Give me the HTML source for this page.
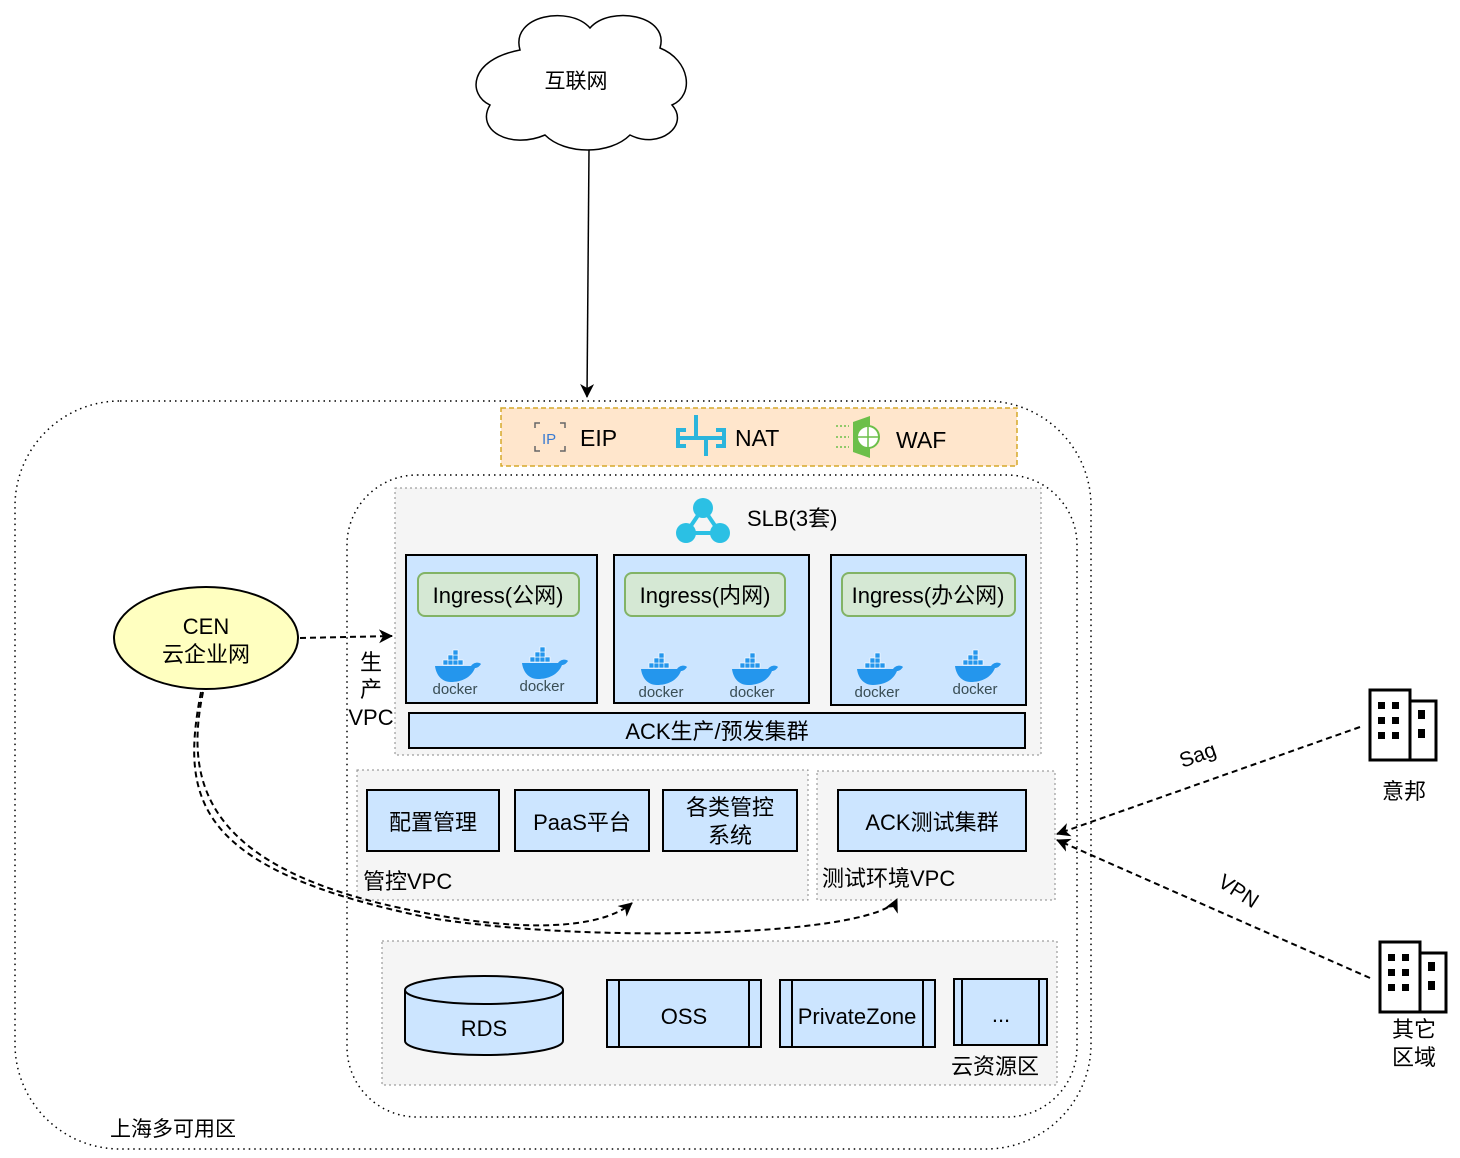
<!DOCTYPE html>
<html><head><meta charset="utf-8"><style>
html,body{margin:0;padding:0;background:#fff}
svg{display:block}
text{font-family:"Liberation Sans","Noto Sans CJK SC",sans-serif;fill:#000}
</style></head><body>
<svg width="1460" height="1158" viewBox="0 0 1460 1158" xmlns="http://www.w3.org/2000/svg">
<defs>
<marker id="ah" viewBox="0 0 10 10" refX="9" refY="5" markerWidth="10" markerHeight="10" markerUnits="userSpaceOnUse" orient="auto">
<path d="M0,0 L10,5 L0,10 L3,5 Z" fill="#000"/></marker>
<marker id="ah2" viewBox="0 0 14 14" refX="13" refY="7" markerWidth="14" markerHeight="14" markerUnits="userSpaceOnUse" orient="auto">
<path d="M0,0 L14,7 L0,14 L4,7 Z" fill="#000"/></marker>
<g id="dk">
<rect x="-12" y="-20" width="5" height="5" fill="#2496ed" stroke="#fff" stroke-width=".6"/>
<rect x="-7" y="-20" width="5" height="5" fill="#2496ed" stroke="#fff" stroke-width=".6"/>
<rect x="-2" y="-20" width="5" height="5" fill="#2496ed" stroke="#fff" stroke-width=".6"/>
<rect x="-7" y="-25" width="5" height="5" fill="#2496ed" stroke="#fff" stroke-width=".6"/>
<rect x="-2" y="-25" width="5" height="5" fill="#2496ed" stroke="#fff" stroke-width=".6"/>
<rect x="-2" y="-30" width="5" height="5" fill="#2496ed" stroke="#fff" stroke-width=".6"/>
<rect x="3" y="-20" width="5" height="5" fill="#2496ed" stroke="#fff" stroke-width=".6"/>
<path d="M-20,-14 L16,-14 C19,-18 24,-18 26,-16 C24,-13 22,-12 20,-12 C16,-2 6,2 -4,2 C-14,2 -19,-6 -20,-14 Z" fill="#2496ed"/>
<text x="0" y="14" font-size="15" text-anchor="middle" style="fill:#394d54">docker</text>
</g>
</defs>

<!-- cloud -->
<path d="M520,50 C510,15 570,5 590,28 C610,5 670,15 660,48 C690,60 695,95 672,105 C690,125 660,150 630,135 C610,155 565,155 545,135 C510,150 475,130 490,105 C468,95 468,60 520,50 Z" fill="#fff" stroke="#000" stroke-width="1.5"/>
<text x="576" y="88" font-size="21" text-anchor="middle">互联网</text>
<line x1="589" y1="150" x2="587" y2="397" stroke="#000" stroke-width="1.5" marker-end="url(#ah2)"/>

<!-- outer zone -->
<rect x="15" y="401" width="1076" height="748" rx="105" fill="none" stroke="#000" stroke-width="1.5" stroke-dasharray="1.5 4"/>
<text x="110" y="1136" font-size="21">上海多可用区</text>
<!-- inner -->
<rect x="347" y="475" width="730" height="642" rx="70" fill="none" stroke="#000" stroke-width="1.5" stroke-dasharray="1.5 4"/>

<!-- EIP bar -->
<rect x="501" y="408" width="516" height="58" fill="#ffe6cc" stroke="#d6a92a" stroke-width="1.5" stroke-dasharray="5 3"/>
<g stroke="#666" stroke-width="1.5" fill="none">
<path d="M535,428 v-5 h5 M560,423 h5 v5 M535,446 v5 h5 M565,446 v5 h-5"/>
</g>
<text x="542" y="444" font-size="15" style="fill:#3b7bd1">IP</text>
<text x="580" y="446" font-size="23">EIP</text>
<g stroke="#2bb5dc" stroke-width="4" fill="none">
<path d="M686,430 h-8 v16 h8 M716,430 h8 v16 h-8 M678,438 h46 M696,415 v25 M706,436 v20"/>
</g>
<text x="735" y="446" font-size="23">NAT</text>
<g fill="#6cbf4a">
<path d="M853,422 L870,416 L870,458 L853,452 Z"/>
<circle cx="868" cy="437" r="11" fill="#fff" stroke="#6cbf4a" stroke-width="2"/>
<path d="M857,437 h22 M868,426 v22" stroke="#6cbf4a" stroke-width="1.5"/>
</g>
<g stroke="#6cbf4a" stroke-width="1.5" stroke-dasharray="2 2"><path d="M836,426 h13 M836,437 h13 M836,447 h13"/></g>
<text x="896" y="448" font-size="23">WAF</text>

<!-- production gray -->
<rect x="395" y="488" width="646" height="267" fill="#f5f5f5" stroke="#888" stroke-width="1" stroke-dasharray="2 3"/>
<g fill="#2bc0e4"><circle cx="703" cy="508" r="10"/><circle cx="686" cy="533" r="10"/><circle cx="720" cy="533" r="10"/></g>
<path d="M703,508 L686,533 L720,533 Z" fill="none" stroke="#2bc0e4" stroke-width="4"/>
<text x="747" y="526" font-size="22">SLB(3套)</text>

<g stroke="#000" stroke-width="2" fill="#cce5ff">
<rect x="406" y="555" width="191" height="148"/>
<rect x="614" y="555" width="195" height="148"/>
<rect x="831" y="555" width="195" height="150"/>
<rect x="409" y="713" width="616" height="35"/>
</g>
<g stroke="#82b366" stroke-width="2" fill="#d5e8d4">
<rect x="418" y="573" width="161" height="43" rx="7"/>
<rect x="625" y="573" width="160" height="43" rx="7"/>
<rect x="842" y="573" width="173" height="43" rx="7"/>
</g>
<g font-size="22" text-anchor="middle">
<text x="498" y="603">Ingress(公网)</text>
<text x="705" y="603">Ingress(内网)</text>
<text x="928" y="603">Ingress(办公网)</text>
<text x="717" y="739">ACK生产/预发集群</text>
</g>
<use href="#dk" x="455" y="680"/><use href="#dk" x="542" y="677"/>
<use href="#dk" x="661" y="683"/><use href="#dk" x="752" y="683"/>
<use href="#dk" x="877" y="683"/><use href="#dk" x="975" y="680"/>

<text x="371" y="670" font-size="22" text-anchor="middle">生</text>
<text x="371" y="697" font-size="22" text-anchor="middle">产</text>
<text x="371" y="725" font-size="22" text-anchor="middle">VPC</text>

<!-- management -->
<rect x="357" y="770" width="451" height="130" fill="#f5f5f5" stroke="#888" stroke-width="1" stroke-dasharray="2 3"/>
<rect x="817" y="771" width="238" height="129" fill="#f5f5f5" stroke="#888" stroke-width="1" stroke-dasharray="2 3"/>
<g stroke="#000" stroke-width="2" fill="#cce5ff">
<rect x="367" y="790" width="132" height="61"/>
<rect x="515" y="790" width="134" height="61"/>
<rect x="663" y="790" width="134" height="61"/>
<rect x="838" y="790" width="188" height="61"/>
</g>
<g font-size="22" text-anchor="middle">
<text x="433" y="830">配置管理</text>
<text x="582" y="830">PaaS平台</text>
<text x="730" y="815">各类管控</text>
<text x="730" y="843">系统</text>
<text x="932" y="830">ACK测试集群</text>
</g>
<text x="363" y="889" font-size="22">管控VPC</text>
<text x="822" y="886" font-size="22">测试环境VPC</text>

<!-- resources -->
<rect x="382" y="941" width="675" height="144" fill="#f5f5f5" stroke="#888" stroke-width="1" stroke-dasharray="2 3"/>
<g stroke="#000" stroke-width="2" fill="#cce5ff">
<path d="M405,990 L405,1041 A79,14 0 0 0 563,1041 L563,990"/>
<ellipse cx="484" cy="990" rx="79" ry="14"/>
<rect x="607" y="980" width="154" height="67"/>
<rect x="780" y="980" width="155" height="67"/>
<rect x="954" y="979" width="93" height="66"/>
<path d="M619,980 v67 M749,980 v67 M792,980 v67 M923,980 v67 M962,979 v66 M1039,979 v66" fill="none"/>
</g>
<g font-size="22" text-anchor="middle">
<text x="484" y="1036">RDS</text>
<text x="684" y="1024">OSS</text>
<text x="857" y="1024">PrivateZone</text>
<text x="1001" y="1022">...</text>
</g>
<text x="951" y="1074" font-size="22">云资源区</text>

<!-- CEN -->
<ellipse cx="206" cy="638" rx="92" ry="51" fill="#ffffc0" stroke="#000" stroke-width="2"/>
<text x="206" y="634" font-size="22" text-anchor="middle">CEN</text>
<text x="206" y="662" font-size="22" text-anchor="middle">云企业网</text>
<line x1="300" y1="638" x2="392" y2="636" stroke="#000" stroke-width="2" stroke-dasharray="6 4" marker-end="url(#ah2)"/>
<g fill="none" stroke="#000" stroke-width="2" stroke-dasharray="6 4">
<path d="M203,692 C185,780 200,870 420,912 C520,932 600,930 632,903" marker-end="url(#ah2)"/>
<path d="M201,692 C180,800 195,870 430,918 C600,945 880,935 897,899" marker-end="url(#ah2)"/>
</g>

<!-- right side -->
<g fill="none" stroke="#000" stroke-width="2" stroke-dasharray="6 4">
<line x1="1360" y1="727" x2="1057" y2="834" marker-end="url(#ah2)"/>
<line x1="1370" y1="978" x2="1057" y2="840" marker-end="url(#ah2)"/>
</g>
<text x="1198" y="762" font-size="21" text-anchor="middle" transform="rotate(-20 1198 756)">Sag</text>
<text x="1238" y="898" font-size="21" text-anchor="middle" transform="rotate(33 1238 892)">VPN</text>
<g id="bld" stroke="#000" stroke-width="3" fill="#fff">
<rect x="1370" y="690" width="40" height="70"/>
<rect x="1410" y="701" width="26" height="59"/>
</g>
<g fill="#000">
<rect x="1378" y="702" width="7" height="7"/><rect x="1392" y="702" width="7" height="7"/>
<rect x="1378" y="717" width="7" height="7"/><rect x="1392" y="717" width="7" height="7"/>
<rect x="1378" y="732" width="7" height="7"/><rect x="1392" y="732" width="7" height="7"/>
<rect x="1418" y="710" width="7" height="9"/><rect x="1418" y="729" width="7" height="9"/>
</g>
<text x="1404" y="799" font-size="22" text-anchor="middle">意邦</text>
<g stroke="#000" stroke-width="3" fill="#fff">
<rect x="1380" y="942" width="40" height="70"/>
<rect x="1420" y="953" width="26" height="59"/>
</g>
<g fill="#000">
<rect x="1388" y="954" width="7" height="7"/><rect x="1402" y="954" width="7" height="7"/>
<rect x="1388" y="969" width="7" height="7"/><rect x="1402" y="969" width="7" height="7"/>
<rect x="1388" y="984" width="7" height="7"/><rect x="1402" y="984" width="7" height="7"/>
<rect x="1428" y="962" width="7" height="9"/><rect x="1428" y="981" width="7" height="9"/>
</g>
<text x="1414" y="1037" font-size="22" text-anchor="middle">其它</text>
<text x="1414" y="1065" font-size="22" text-anchor="middle">区域</text>
</svg>
</body></html>
